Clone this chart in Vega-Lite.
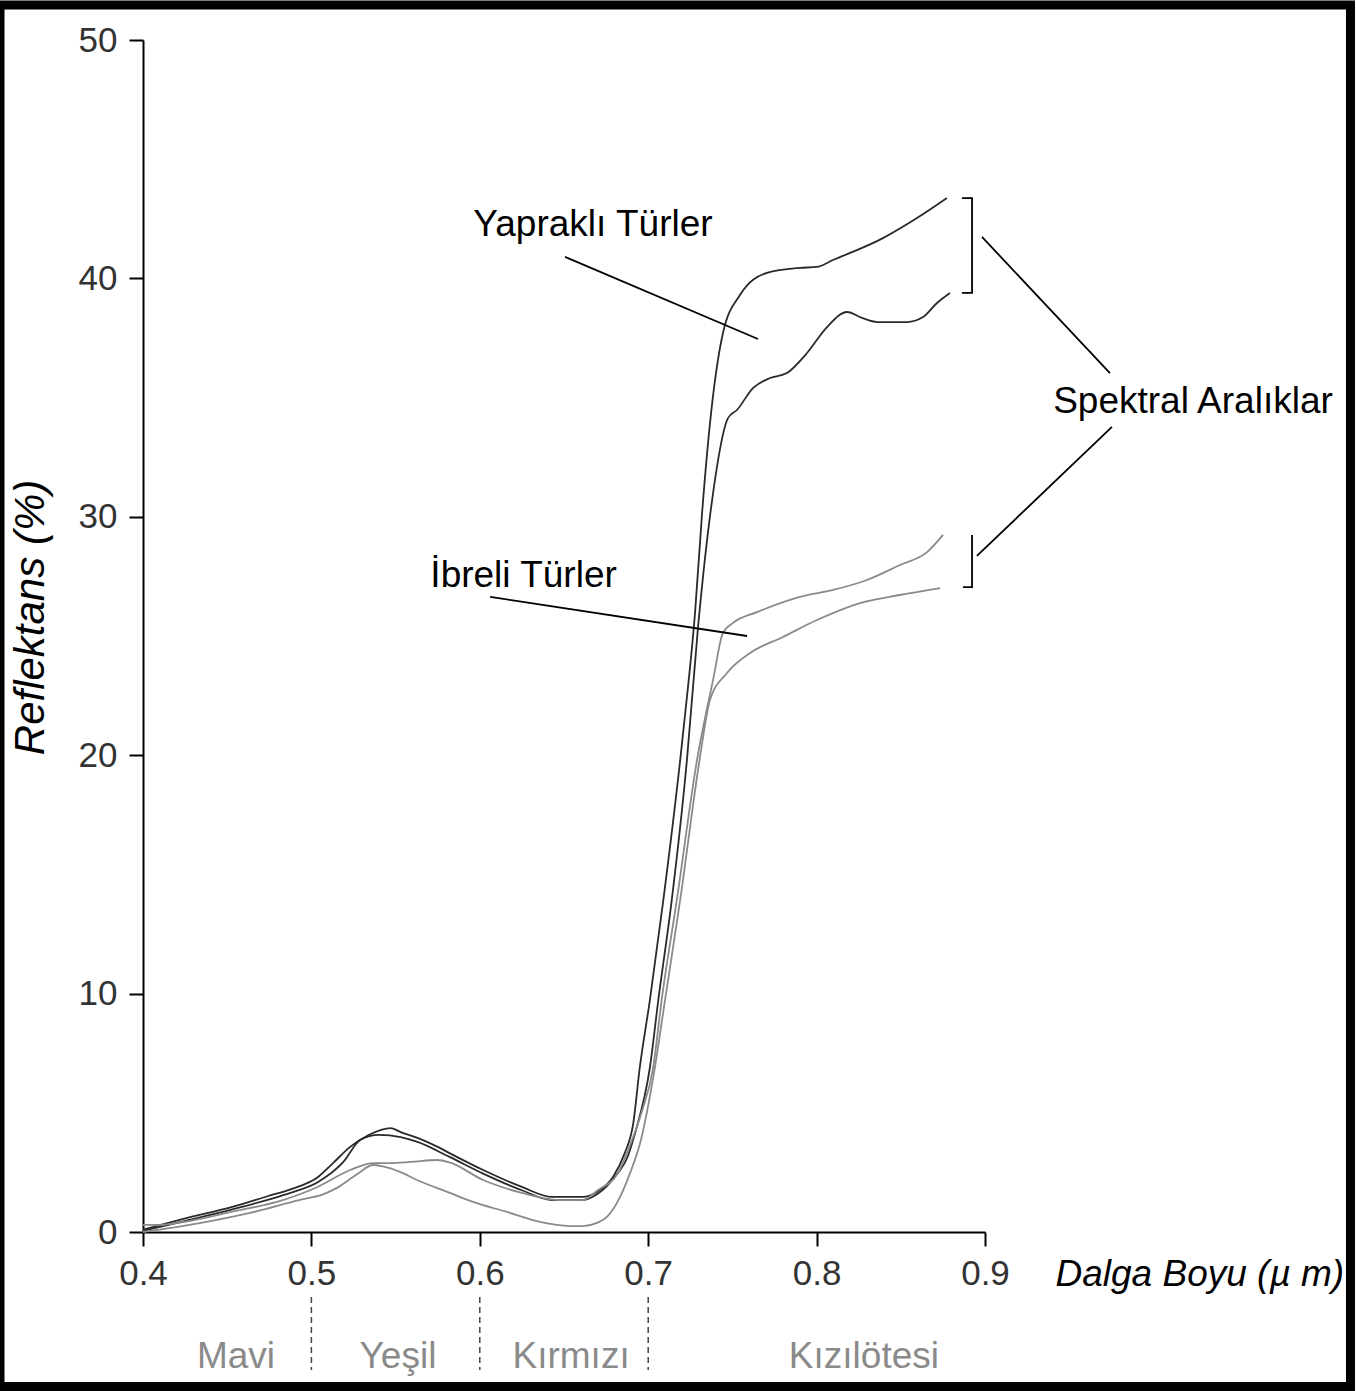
{
  "$schema": "https://vega.github.io/schema/vega-lite/v6.json",
  "width": 842,
  "height": 1192,
  "autosize": {"type": "none"},
  "padding": {"left": 143, "top": 40, "right": 371, "bottom": 159},
  "background": "white",
  "config": {"view": {"stroke": null}, "axis": {"grid": false}},
  "datasets": {
    "spectra": [
      {"curve": "Y1", "group": "Yapraklı Türler", "wl": 0.400, "refl": 0.10},
      {"curve": "Y1", "group": "Yapraklı Türler", "wl": 0.424, "refl": 0.55},
      {"curve": "Y1", "group": "Yapraklı Türler", "wl": 0.453, "refl": 1.05},
      {"curve": "Y1", "group": "Yapraklı Türler", "wl": 0.474, "refl": 1.50},
      {"curve": "Y1", "group": "Yapraklı Türler", "wl": 0.488, "refl": 1.80},
      {"curve": "Y1", "group": "Yapraklı Türler", "wl": 0.504, "refl": 2.31},
      {"curve": "Y1", "group": "Yapraklı Türler", "wl": 0.513, "refl": 2.90},
      {"curve": "Y1", "group": "Yapraklı Türler", "wl": 0.523, "refl": 3.57},
      {"curve": "Y1", "group": "Yapraklı Türler", "wl": 0.534, "refl": 4.07},
      {"curve": "Y1", "group": "Yapraklı Türler", "wl": 0.547, "refl": 4.36},
      {"curve": "Y1", "group": "Yapraklı Türler", "wl": 0.553, "refl": 4.19},
      {"curve": "Y1", "group": "Yapraklı Türler", "wl": 0.563, "refl": 3.95},
      {"curve": "Y1", "group": "Yapraklı Türler", "wl": 0.575, "refl": 3.57},
      {"curve": "Y1", "group": "Yapraklı Türler", "wl": 0.582, "refl": 3.31},
      {"curve": "Y1", "group": "Yapraklı Türler", "wl": 0.602, "refl": 2.60},
      {"curve": "Y1", "group": "Yapraklı Türler", "wl": 0.625, "refl": 1.89},
      {"curve": "Y1", "group": "Yapraklı Türler", "wl": 0.643, "refl": 1.47},
      {"curve": "Y1", "group": "Yapraklı Türler", "wl": 0.661, "refl": 1.47},
      {"curve": "Y1", "group": "Yapraklı Türler", "wl": 0.670, "refl": 1.70},
      {"curve": "Y1", "group": "Yapraklı Türler", "wl": 0.679, "refl": 2.30},
      {"curve": "Y1", "group": "Yapraklı Türler", "wl": 0.686, "refl": 3.30},
      {"curve": "Y1", "group": "Yapraklı Türler", "wl": 0.691, "refl": 4.50},
      {"curve": "Y1", "group": "Yapraklı Türler", "wl": 0.695, "refl": 6.90},
      {"curve": "Y1", "group": "Yapraklı Türler", "wl": 0.701, "refl": 9.73},
      {"curve": "Y1", "group": "Yapraklı Türler", "wl": 0.709, "refl": 13.93},
      {"curve": "Y1", "group": "Yapraklı Türler", "wl": 0.719, "refl": 19.80},
      {"curve": "Y1", "group": "Yapraklı Türler", "wl": 0.722, "refl": 21.77},
      {"curve": "Y1", "group": "Yapraklı Türler", "wl": 0.7278, "refl": 25.96},
      {"curve": "Y1", "group": "Yapraklı Türler", "wl": 0.732, "refl": 30.16},
      {"curve": "Y1", "group": "Yapraklı Türler", "wl": 0.7367, "refl": 33.93},
      {"curve": "Y1", "group": "Yapraklı Türler", "wl": 0.7444, "refl": 37.71},
      {"curve": "Y1", "group": "Yapraklı Türler", "wl": 0.7545, "refl": 39.30},
      {"curve": "Y1", "group": "Yapraklı Türler", "wl": 0.7705, "refl": 40.23},
      {"curve": "Y1", "group": "Yapraklı Türler", "wl": 0.790, "refl": 40.44},
      {"curve": "Y1", "group": "Yapraklı Türler", "wl": 0.800, "refl": 40.48},
      {"curve": "Y1", "group": "Yapraklı Türler", "wl": 0.8097, "refl": 40.77},
      {"curve": "Y1", "group": "Yapraklı Türler", "wl": 0.8394, "refl": 41.69},
      {"curve": "Y1", "group": "Yapraklı Türler", "wl": 0.8596, "refl": 42.53},
      {"curve": "Y1", "group": "Yapraklı Türler", "wl": 0.8774, "refl": 43.37},

      {"curve": "Y2", "group": "Yapraklı Türler", "wl": 0.400, "refl": 0.05},
      {"curve": "Y2", "group": "Yapraklı Türler", "wl": 0.424, "refl": 0.45},
      {"curve": "Y2", "group": "Yapraklı Türler", "wl": 0.453, "refl": 0.95},
      {"curve": "Y2", "group": "Yapraklı Türler", "wl": 0.474, "refl": 1.35},
      {"curve": "Y2", "group": "Yapraklı Türler", "wl": 0.488, "refl": 1.65},
      {"curve": "Y2", "group": "Yapraklı Türler", "wl": 0.504, "refl": 2.10},
      {"curve": "Y2", "group": "Yapraklı Türler", "wl": 0.519, "refl": 2.94},
      {"curve": "Y2", "group": "Yapraklı Türler", "wl": 0.529, "refl": 3.86},
      {"curve": "Y2", "group": "Yapraklı Türler", "wl": 0.540, "refl": 4.07},
      {"curve": "Y2", "group": "Yapraklı Türler", "wl": 0.553, "refl": 3.98},
      {"curve": "Y2", "group": "Yapraklı Türler", "wl": 0.563, "refl": 3.78},
      {"curve": "Y2", "group": "Yapraklı Türler", "wl": 0.582, "refl": 3.15},
      {"curve": "Y2", "group": "Yapraklı Türler", "wl": 0.602, "refl": 2.45},
      {"curve": "Y2", "group": "Yapraklı Türler", "wl": 0.625, "refl": 1.75},
      {"curve": "Y2", "group": "Yapraklı Türler", "wl": 0.643, "refl": 1.34},
      {"curve": "Y2", "group": "Yapraklı Türler", "wl": 0.661, "refl": 1.34},
      {"curve": "Y2", "group": "Yapraklı Türler", "wl": 0.670, "refl": 1.60},
      {"curve": "Y2", "group": "Yapraklı Türler", "wl": 0.680, "refl": 2.30},
      {"curve": "Y2", "group": "Yapraklı Türler", "wl": 0.688, "refl": 3.20},
      {"curve": "Y2", "group": "Yapraklı Türler", "wl": 0.692, "refl": 4.10},
      {"curve": "Y2", "group": "Yapraklı Türler", "wl": 0.701, "refl": 6.90},
      {"curve": "Y2", "group": "Yapraklı Türler", "wl": 0.706, "refl": 9.73},
      {"curve": "Y2", "group": "Yapraklı Türler", "wl": 0.714, "refl": 13.93},
      {"curve": "Y2", "group": "Yapraklı Türler", "wl": 0.723, "refl": 19.80},
      {"curve": "Y2", "group": "Yapraklı Türler", "wl": 0.7296, "refl": 25.38},
      {"curve": "Y2", "group": "Yapraklı Türler", "wl": 0.737, "refl": 30.20},
      {"curve": "Y2", "group": "Yapraklı Türler", "wl": 0.7474, "refl": 34.14},
      {"curve": "Y2", "group": "Yapraklı Türler", "wl": 0.7527, "refl": 34.48},
      {"curve": "Y2", "group": "Yapraklı Türler", "wl": 0.7622, "refl": 35.40},
      {"curve": "Y2", "group": "Yapraklı Türler", "wl": 0.7723, "refl": 35.82},
      {"curve": "Y2", "group": "Yapraklı Türler", "wl": 0.7824, "refl": 36.03},
      {"curve": "Y2", "group": "Yapraklı Türler", "wl": 0.7943, "refl": 36.87},
      {"curve": "Y2", "group": "Yapraklı Türler", "wl": 0.8062, "refl": 37.96},
      {"curve": "Y2", "group": "Yapraklı Türler", "wl": 0.8181, "refl": 38.59},
      {"curve": "Y2", "group": "Yapraklı Türler", "wl": 0.8270, "refl": 38.34},
      {"curve": "Y2", "group": "Yapraklı Türler", "wl": 0.8359, "refl": 38.17},
      {"curve": "Y2", "group": "Yapraklı Türler", "wl": 0.8537, "refl": 38.17},
      {"curve": "Y2", "group": "Yapraklı Türler", "wl": 0.8632, "refl": 38.38},
      {"curve": "Y2", "group": "Yapraklı Türler", "wl": 0.8715, "refl": 38.97},
      {"curve": "Y2", "group": "Yapraklı Türler", "wl": 0.8792, "refl": 39.39},

      {"curve": "I1", "group": "İbreli Türler", "wl": 0.400, "refl": 0.30},
      {"curve": "I1", "group": "İbreli Türler", "wl": 0.410, "refl": 0.30},
      {"curve": "I1", "group": "İbreli Türler", "wl": 0.424, "refl": 0.42},
      {"curve": "I1", "group": "İbreli Türler", "wl": 0.453, "refl": 0.85},
      {"curve": "I1", "group": "İbreli Türler", "wl": 0.483, "refl": 1.34},
      {"curve": "I1", "group": "İbreli Türler", "wl": 0.504, "refl": 1.90},
      {"curve": "I1", "group": "İbreli Türler", "wl": 0.523, "refl": 2.60},
      {"curve": "I1", "group": "İbreli Türler", "wl": 0.537, "refl": 2.89},
      {"curve": "I1", "group": "İbreli Türler", "wl": 0.547, "refl": 2.89},
      {"curve": "I1", "group": "İbreli Türler", "wl": 0.559, "refl": 2.94},
      {"curve": "I1", "group": "İbreli Türler", "wl": 0.575, "refl": 3.02},
      {"curve": "I1", "group": "İbreli Türler", "wl": 0.582, "refl": 2.92},
      {"curve": "I1", "group": "İbreli Türler", "wl": 0.602, "refl": 2.18},
      {"curve": "I1", "group": "İbreli Türler", "wl": 0.625, "refl": 1.64},
      {"curve": "I1", "group": "İbreli Türler", "wl": 0.647, "refl": 1.34},
      {"curve": "I1", "group": "İbreli Türler", "wl": 0.661, "refl": 1.34},
      {"curve": "I1", "group": "İbreli Türler", "wl": 0.670, "refl": 1.75},
      {"curve": "I1", "group": "İbreli Türler", "wl": 0.682, "refl": 2.47},
      {"curve": "I1", "group": "İbreli Türler", "wl": 0.689, "refl": 3.60},
      {"curve": "I1", "group": "İbreli Türler", "wl": 0.696, "refl": 5.00},
      {"curve": "I1", "group": "İbreli Türler", "wl": 0.703, "refl": 6.92},
      {"curve": "I1", "group": "İbreli Türler", "wl": 0.708, "refl": 9.73},
      {"curve": "I1", "group": "İbreli Türler", "wl": 0.717, "refl": 13.93},
      {"curve": "I1", "group": "İbreli Türler", "wl": 0.729, "refl": 19.80},
      {"curve": "I1", "group": "İbreli Türler", "wl": 0.7385, "refl": 23.15},
      {"curve": "I1", "group": "İbreli Türler", "wl": 0.7444, "refl": 25.13},
      {"curve": "I1", "group": "İbreli Türler", "wl": 0.7504, "refl": 25.55},
      {"curve": "I1", "group": "İbreli Türler", "wl": 0.7646, "refl": 26.00},
      {"curve": "I1", "group": "İbreli Türler", "wl": 0.7901, "refl": 26.64},
      {"curve": "I1", "group": "İbreli Türler", "wl": 0.8097, "refl": 26.93},
      {"curve": "I1", "group": "İbreli Türler", "wl": 0.8299, "refl": 27.35},
      {"curve": "I1", "group": "İbreli Türler", "wl": 0.8495, "refl": 27.98},
      {"curve": "I1", "group": "İbreli Türler", "wl": 0.8656, "refl": 28.52},
      {"curve": "I1", "group": "İbreli Türler", "wl": 0.8751, "refl": 29.24},

      {"curve": "I2", "group": "İbreli Türler", "wl": 0.400, "refl": 0.00},
      {"curve": "I2", "group": "İbreli Türler", "wl": 0.432, "refl": 0.35},
      {"curve": "I2", "group": "İbreli Türler", "wl": 0.4635, "refl": 0.80},
      {"curve": "I2", "group": "İbreli Türler", "wl": 0.4932, "refl": 1.35},
      {"curve": "I2", "group": "İbreli Türler", "wl": 0.5069, "refl": 1.58},
      {"curve": "I2", "group": "İbreli Türler", "wl": 0.5152, "refl": 1.85},
      {"curve": "I2", "group": "İbreli Türler", "wl": 0.5271, "refl": 2.42},
      {"curve": "I2", "group": "İbreli Türler", "wl": 0.5366, "refl": 2.81},
      {"curve": "I2", "group": "İbreli Türler", "wl": 0.5425, "refl": 2.75},
      {"curve": "I2", "group": "İbreli Türler", "wl": 0.5526, "refl": 2.52},
      {"curve": "I2", "group": "İbreli Türler", "wl": 0.5627, "refl": 2.18},
      {"curve": "I2", "group": "İbreli Türler", "wl": 0.5823, "refl": 1.64},
      {"curve": "I2", "group": "İbreli Türler", "wl": 0.596, "refl": 1.26},
      {"curve": "I2", "group": "İbreli Türler", "wl": 0.6162, "refl": 0.84},
      {"curve": "I2", "group": "İbreli Türler", "wl": 0.6357, "refl": 0.42},
      {"curve": "I2", "group": "İbreli Türler", "wl": 0.6536, "refl": 0.25},
      {"curve": "I2", "group": "İbreli Türler", "wl": 0.6613, "refl": 0.25},
      {"curve": "I2", "group": "İbreli Türler", "wl": 0.6696, "refl": 0.38},
      {"curve": "I2", "group": "İbreli Türler", "wl": 0.6755, "refl": 0.63},
      {"curve": "I2", "group": "İbreli Türler", "wl": 0.6833, "refl": 1.47},
      {"curve": "I2", "group": "İbreli Türler", "wl": 0.6892, "refl": 2.47},
      {"curve": "I2", "group": "İbreli Türler", "wl": 0.6952, "refl": 3.73},
      {"curve": "I2", "group": "İbreli Türler", "wl": 0.704, "refl": 6.92},
      {"curve": "I2", "group": "İbreli Türler", "wl": 0.710, "refl": 9.73},
      {"curve": "I2", "group": "İbreli Türler", "wl": 0.719, "refl": 13.93},
      {"curve": "I2", "group": "İbreli Türler", "wl": 0.7305, "refl": 19.80},
      {"curve": "I2", "group": "İbreli Türler", "wl": 0.7367, "refl": 22.32},
      {"curve": "I2", "group": "İbreli Türler", "wl": 0.7468, "refl": 23.45},
      {"curve": "I2", "group": "İbreli Türler", "wl": 0.7605, "refl": 24.29},
      {"curve": "I2", "group": "İbreli Türler", "wl": 0.780, "refl": 24.96},
      {"curve": "I2", "group": "İbreli Türler", "wl": 0.8002, "refl": 25.67},
      {"curve": "I2", "group": "İbreli Türler", "wl": 0.8258, "refl": 26.38},
      {"curve": "I2", "group": "İbreli Türler", "wl": 0.8495, "refl": 26.72},
      {"curve": "I2", "group": "İbreli Türler", "wl": 0.8733, "refl": 27.01}
    ],
    "leaders": [
      {"seg": "L1", "ord": 0, "wl": 0.6506, "refl": 40.90},
      {"seg": "L1", "ord": 1, "wl": 0.7652, "refl": 37.46},
      {"seg": "L2", "ord": 0, "wl": 0.6061, "refl": 26.64},
      {"seg": "L2", "ord": 1, "wl": 0.7587, "refl": 25.00},
      {"seg": "L3", "ord": 0, "wl": 0.8982, "refl": 41.74},
      {"seg": "L3", "ord": 1, "wl": 0.9742, "refl": 36.03},
      {"seg": "L4", "ord": 0, "wl": 0.8952, "refl": 28.36},
      {"seg": "L4", "ord": 1, "wl": 0.9754, "refl": 33.77},
      {"seg": "B1", "ord": 0, "wl": 0.8863, "refl": 43.37},
      {"seg": "B1", "ord": 1, "wl": 0.8923, "refl": 43.37},
      {"seg": "B1", "ord": 2, "wl": 0.8923, "refl": 39.39},
      {"seg": "B1", "ord": 3, "wl": 0.8863, "refl": 39.39},
      {"seg": "B2", "ord": 0, "wl": 0.8923, "refl": 29.24},
      {"seg": "B2", "ord": 1, "wl": 0.8923, "refl": 27.05},
      {"seg": "B2", "ord": 2, "wl": 0.8869, "refl": 27.05}
    ],
    "notes": [
      {"label": "Yapraklı Türler", "wl": 0.6672, "refl": 41.78},
      {"label": "İbreli Türler", "wl": 0.6260, "refl": 27.06},
      {"label": "Spektral Aralıklar", "wl": 1.0235, "refl": 34.35}
    ],
    "bands": [
      {"label": "Mavi", "wl": 0.4552, "refl": -5.70},
      {"label": "Yeşil", "wl": 0.5514, "refl": -5.70},
      {"label": "Kırmızı", "wl": 0.6542, "refl": -5.70},
      {"label": "Kızılötesi", "wl": 0.8281, "refl": -5.70}
    ],
    "separators": [
      {"wl": 0.5, "top": -2.73, "bottom": -5.79},
      {"wl": 0.6, "top": -2.73, "bottom": -5.79},
      {"wl": 0.7, "top": -2.73, "bottom": -5.79}
    ]
  },
  "layer": [
    {
      "data": {"name": "spectra"},
      "mark": {"type": "line", "interpolate": "monotone", "strokeWidth": 1.8},
      "encoding": {
        "x": {
          "field": "wl", "type": "quantitative",
          "scale": {"domain": [0.4, 0.9], "nice": false, "zero": false},
          "axis": {
            "values": [0.4, 0.5, 0.6, 0.7, 0.8, 0.9], "format": ".1f",
            "tickSize": 14, "tickWidth": 2, "tickColor": "black",
            "domainWidth": 2, "domainColor": "black",
            "labelFont": "Liberation Sans", "labelFontSize": 35, "labelColor": "#333",
            "labelPadding": 10, "labelFlush": false, "labelOverlap": false,
            "title": "Dalga Boyu (µ m)", "titleX": 912, "titleY": 53,
            "titleAlign": "left", "titleBaseline": "alphabetic",
            "titleFont": "Liberation Sans", "titleFontSize": 37, "titleFontStyle": "italic",
            "titleFontWeight": "normal", "titleColor": "black"
          }
        },
        "y": {
          "field": "refl", "type": "quantitative",
          "scale": {"domain": [0, 50], "nice": false},
          "axis": {
            "values": [0, 10, 20, 30, 40, 50],
            "tickSize": 14, "tickWidth": 2, "tickColor": "black",
            "domainWidth": 2, "domainColor": "black",
            "labelFont": "Liberation Sans", "labelFontSize": 35, "labelColor": "#333",
            "labelPadding": 12, "labelFlush": false, "labelOverlap": false,
            "title": "Reflektans (%)", "titleX": -100, "titleY": 577, "titleAngle": 270,
            "titleAlign": "center", "titleBaseline": "alphabetic",
            "titleFont": "Liberation Sans", "titleFontSize": 42, "titleFontStyle": "italic",
            "titleFontWeight": "normal", "titleColor": "black"
          }
        },
        "color": {
          "field": "group", "type": "nominal",
          "scale": {"domain": ["Yapraklı Türler", "İbreli Türler"], "range": ["#2a2a2a", "#8a8a8a"]},
          "legend": null
        },
        "detail": {"field": "curve"}
      }
    },
    {
      "data": {"name": "leaders"},
      "mark": {"type": "line", "color": "black", "strokeWidth": 1.8},
      "encoding": {
        "x": {"field": "wl", "type": "quantitative"},
        "y": {"field": "refl", "type": "quantitative"},
        "detail": {"field": "seg"},
        "order": {"field": "ord"}
      }
    },
    {
      "data": {"name": "notes"},
      "mark": {"type": "text", "font": "Liberation Sans", "fontSize": 37, "color": "black", "align": "center", "baseline": "alphabetic"},
      "encoding": {
        "x": {"field": "wl", "type": "quantitative"},
        "y": {"field": "refl", "type": "quantitative"},
        "text": {"field": "label"}
      }
    },
    {
      "data": {"name": "bands"},
      "mark": {"type": "text", "font": "Liberation Sans", "fontSize": 37, "color": "#8a8a8a", "align": "center", "baseline": "alphabetic"},
      "encoding": {
        "x": {"field": "wl", "type": "quantitative"},
        "y": {"field": "refl", "type": "quantitative"},
        "text": {"field": "label"}
      }
    },
    {
      "data": {"name": "separators"},
      "mark": {"type": "rule", "color": "#444", "strokeWidth": 1.5, "strokeDash": [6, 4]},
      "encoding": {
        "x": {"field": "wl", "type": "quantitative"},
        "y": {"field": "top", "type": "quantitative"},
        "y2": {"field": "bottom"}
      }
    },
    {
      "data": {"values": [{}]},
      "mark": {"type": "rect", "filled": false, "fill": null, "stroke": "black", "strokeWidth": 9},
      "encoding": {
        "x": {"datum": 0.31508, "type": "quantitative"},
        "x2": {"datum": 1.11704},
        "y": {"datum": 51.468, "type": "quantitative"},
        "y2": {"datum": -6.481}
      }
    }
  ]
}
